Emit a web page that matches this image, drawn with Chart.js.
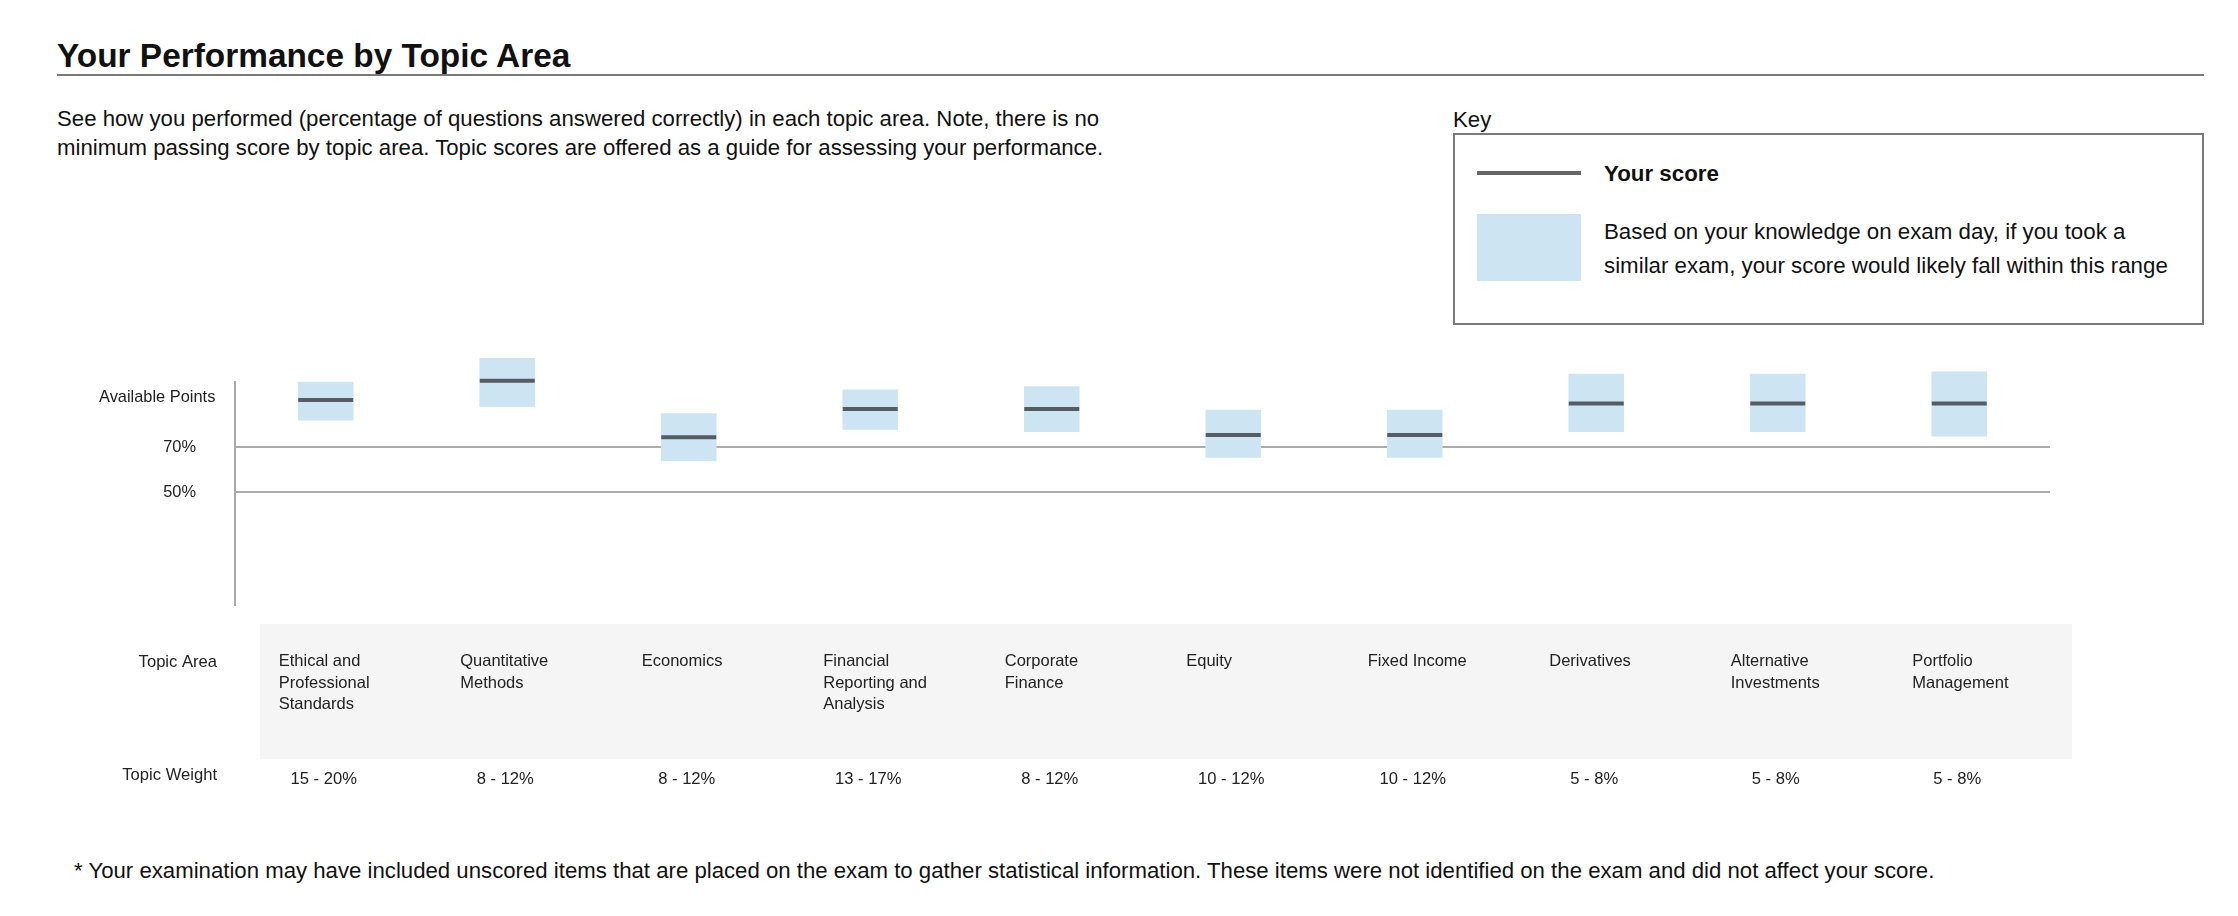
<!DOCTYPE html>
<html>
<head>
<meta charset="utf-8">
<title>Your Performance by Topic Area</title>
<script src="https://cdn.jsdelivr.net/npm/chart.js@4.4.1/dist/chart.umd.min.js"></script>
<style>
  html, body { margin: 0; padding: 0; background: #fff; }
  body { width: 2238px; height: 916px; position: relative; overflow: hidden; font-family: "Liberation Sans", Arial, sans-serif; color: #111; }
  .abs { position: absolute; white-space: nowrap; }
  #title { left: 57px; top: 39px; font-size: 33.4px; font-weight: bold; line-height: 33px; }
  #rule { left: 57px; top: 74px; width: 2147px; height: 2px; background: #7a7a7a; }
  #desc { left: 57px; top: 104px; font-size: 22.2px; line-height: 29px; }
  #keyLabel { left: 1453px; top: 105px; font-size: 22.2px; line-height: 29px; }
  #keyBox { left: 1453px; top: 133px; width: 747px; height: 188px; border: 2px solid #7a7a7a; }
  #keyLine { left: 1477px; top: 171px; width: 104px; height: 4px; background: #666; }
  #keyScore { left: 1604px; top: 157px; font-size: 22.3px; line-height: 34px; font-weight: bold; }
  #keySwatch { left: 1477px; top: 214px; width: 104px; height: 67px; background: #cde5f3; }
  #keyRange { left: 1604px; top: 215px; font-size: 22.3px; line-height: 34px; }
  #chartWrap { left: 0; top: 330px; width: 2238px; height: 485px; }
  #foot { left: 74px; top: 856px; font-size: 22.2px; line-height: 29px; }
</style>
</head>
<body>
<div class="abs" id="title">Your Performance by Topic Area</div>
<div class="abs" id="rule"></div>
<div class="abs" id="desc">See how you performed (percentage of questions answered correctly) in each topic area. Note, there is no<br>minimum passing score by topic area. Topic scores are offered as a guide for assessing your performance.</div>

<div class="abs" id="keyLabel">Key</div>
<div class="abs" id="keyBox"></div>
<div class="abs" id="keyLine"></div>
<div class="abs" id="keyScore">Your score</div>
<div class="abs" id="keySwatch"></div>
<div class="abs" id="keyRange">Based on your knowledge on exam day, if you took a<br>similar exam, your score would likely fall within this range</div>

<div class="abs" id="chartWrap"><canvas id="chart" width="2238" height="485"></canvas></div>

<div class="abs" id="foot">* Your examination may have included unscored items that are placed on the exam to gather statistical information. These items were not identified on the exam and did not affect your score.</div>

<script>
// --- Datos ---
const topics = [
    ['Ethical and', 'Professional', 'Standards'],
    ['Quantitative', 'Methods'],
    ['Economics'],
    ['Financial', 'Reporting and', 'Analysis'],
    ['Corporate', 'Finance'],
    ['Equity'],
    ['Fixed Income'],
    ['Derivatives'],
    ['Alternative', 'Investments'],
    ['Portfolio', 'Management']
];
const weights = ['15 - 20%', '8 - 12%', '8 - 12%', '13 - 17%', '8 - 12%', '10 - 12%', '10 - 12%', '5 - 8%', '5 - 8%', '5 - 8%'];

// likely range (low / high) and the score line, in %
const rangeLow  = [82, 88, 64, 78, 77, 65.5, 65.5, 77, 77, 75];
const rangeHigh = [99, 109.5, 85, 95.5, 97, 86.5, 86.5, 102.5, 102.5, 103.5];
const scores    = [91, 99.5, 74.5, 87, 87, 75.5, 75.5, 89.5, 89.5, 89.5];

// y axis
const yMin = 0, yMax = 99;
const gridTicks = [50, 70];
const gridLabels = ['50%', '70%'];
const topTicks = [92];
const topLabels = ['Available Points'];
const rowHeaders = ['Topic Area', 'Topic Weight'];

const FONT = '"Liberation Sans", Arial, sans-serif';
Chart.defaults.font.family = FONT;

// --- Fondo gris de la tabla y cabeceras de fila ---
const rowsPlugin = {
    id: 'rows',
    beforeDraw(chart) {
        const { ctx, chartArea, scales } = chart;
        const top = scales.x.top + 19;
        const bottom = scales.x2.top + 44;
        ctx.save();
        ctx.fillStyle = '#f5f5f5';
        ctx.fillRect(chartArea.left + 25, top, chartArea.right - chartArea.left - 3, bottom - top);
        ctx.restore();
    },
    afterDraw(chart) {
        const { ctx, chartArea, scales } = chart;
        ctx.save();
        ctx.font = '16.6px ' + FONT;
        ctx.fillStyle = '#222';
        ctx.textAlign = 'right';
        ctx.textBaseline = 'middle';
        ctx.fillText(rowHeaders[0], chartArea.left - 18, scales.x.top + 57);
        ctx.fillText(rowHeaders[1], chartArea.left - 18, scales.x2.top + 60);
        ctx.restore();
    }
};

new Chart(document.getElementById('chart'), {
    type: 'bar',
    data: {
        labels: topics,
        datasets: [
            {
                type: 'line', label: 'Your score', data: scores,
                showLine: false, pointStyle: 'line',
                pointRadius: 27.5, pointHoverRadius: 27.5,
                pointBorderWidth: 4, pointHoverBorderWidth: 4,
                borderColor: '#555c64', backgroundColor: '#555c64',
                clip: false, order: 1
            },
            {
                label: 'Likely range',
                data: rangeLow.map((lo, i) => [lo, rangeHigh[i]]),
                backgroundColor: '#cde5f3', barThickness: 55,
                clip: false, order: 2
            }
        ]
    },
    options: {
        responsive: false,
        animation: false,
        events: [],
        layout: { padding: { top: 52, left: 0, right: 188, bottom: 20 } },
        plugins: { legend: { display: false }, tooltip: { enabled: false } },
        scales: {
            x: {
                offset: true, weight: 0,
                afterFit: s => { s.height = 110; },
                grid: { display: false, drawTicks: false }, border: { display: false },
                ticks: { autoSkip: false, maxRotation: 0, minRotation: 0, align: 'start', labelOffset: -47, padding: 46, color: '#222', font: { size: 16.5, lineHeight: 1.3 } }
            },
            x2: {
                type: 'category', position: 'bottom', labels: weights, offset: true, weight: 1,
                afterFit: s => { s.height = 80; },
                grid: { display: false, drawTicks: false }, border: { display: false },
                ticks: { autoSkip: false, maxRotation: 0, minRotation: 0, labelOffset: -2, padding: 54, color: '#222', font: { size: 16.6, lineHeight: 1.2 } }
            },
            y: {
                min: yMin, max: yMax, weight: 1,
                afterBuildTicks: s => { s.ticks = gridTicks.map(v => ({ value: v })); },
                afterFit: s => { s.width = 235; },
                grid: { color: '#acacac', lineWidth: 2, drawTicks: false },
                border: { color: '#a8a8a8', width: 2 },
                ticks: { padding: 39, color: '#222', font: { size: 16.4 }, callback: v => gridLabels[gridTicks.indexOf(v)] }
            },
            y2: {
                // mirrored so its label is not clipped to a zero-width box
                type: 'linear', position: 'left', min: yMin, max: yMax, weight: 0,
                afterBuildTicks: s => { s.ticks = topTicks.map(v => ({ value: v })); },
                afterFit: s => { s.width = 0; },
                grid: { display: false, drawTicks: false }, border: { display: false },
                ticks: { mirror: true, crossAlign: 'near', padding: -136, color: '#222', font: { size: 16.4 }, callback: v => topLabels[topTicks.indexOf(v)] }
            }
        }
    },
    plugins: [rowsPlugin]
});
</script>
</body>
</html>
